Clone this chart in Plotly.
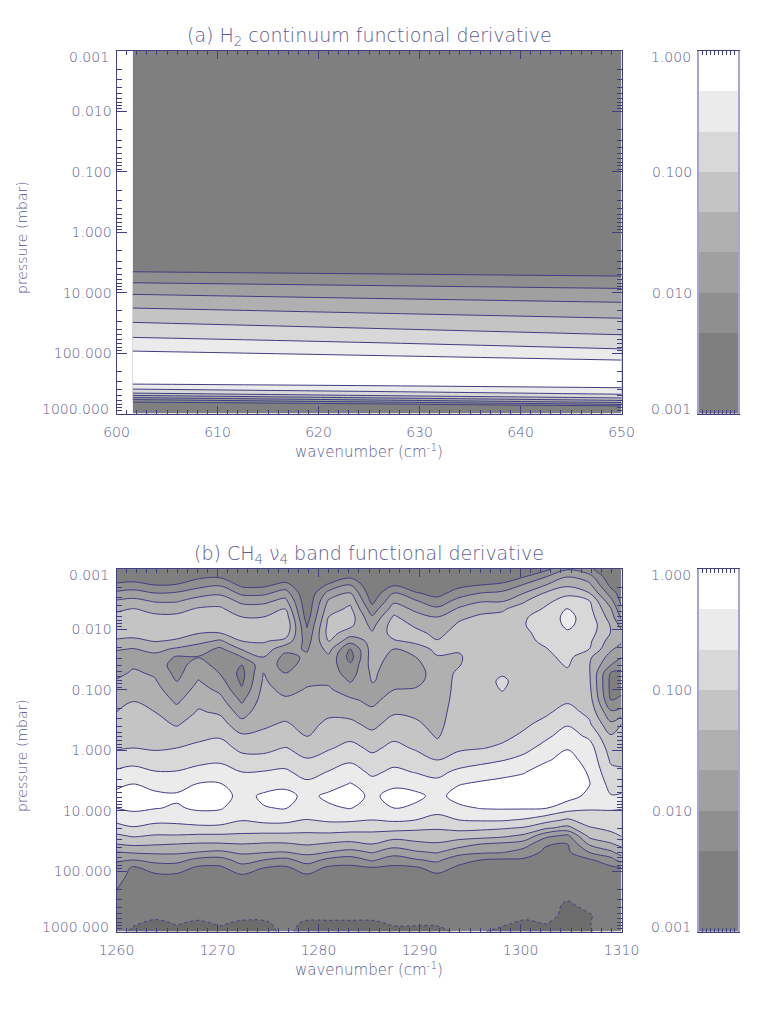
import numpy as np
import plotly.graph_objects as go

# ---- data: contour-level index (2..8 are the drawn levels, one third of a decade apart)
band_colors = ["#7f7f7f", "#8f8f8f", "#a0a0a0", "#b0b0b0", "#c4c4c4", "#d8d8d8", "#ebebeb", "#ffffff"]
band_index = [1.5, 2.5, 3.5, 4.5, 5.5, 6.5, 7.5, 8.5]
band_edges_log = [-3.0, -2.333, -2.0, -1.667, -1.333, -1.0, -0.667, -0.333, 0.0]

pressure_ticks = [-2, -1, 0, 1, 2]
pressure_labels = ["0.010", "0.100", "1.000", "10.000", "100.000"]
pressure_end_labels = ["0.001", "1000.000"]
colorbar_ticks = [-2, -1]
colorbar_labels = ["0.010", "0.100"]
colorbar_end_labels = ["1.000", "0.001"]

wavenumber_a = [601.6, 626.0, 650.0]
log_pressure_a = [-3.0, 0.46, 0.654, 0.836, 1.028, 1.255, 1.492, 1.740, 1.967, 2.116, 2.315, 2.513,
                  2.596, 2.662, 2.700, 2.737, 2.770, 2.811, 2.849, 2.877, 3.0]
level_a_left = [0.9, 0.94, 2.0, 3.0, 4.0, 5.0, 6.0, 7.0, 8.0, 8.7, 8.85, 8.0, 7.0, 6.0, 5.0, 4.0, 3.0, 2.0, 1.0, 0.8, 0.8]
level_a_mid = [0.9, 0.75, 1.81, 2.77, 3.71, 4.67, 5.59, 6.59, 7.63, 8.37, 8.7, 8.25, 7.49, 6.69, 6.1, 5.14, 4.23, 2.97, 1.74, 1.0, 0.8]
level_a_right = [0.9, 0.66, 1.64, 2.56, 3.46, 4.39, 5.25, 6.16, 7.16, 8.0, 8.64, 8.4, 7.85, 7.23, 6.77, 6.14, 5.35, 4.23, 3.0, 1.89, 0.8]

wavenumber_b = [1260.0, 1261.66, 1263.81, 1265.96, 1268.11, 1270.26, 1272.41, 1274.56, 1276.71, 1278.86, 1281.01,
                1283.16, 1285.31, 1287.46, 1289.61, 1291.76, 1293.91, 1296.06, 1298.21, 1300.36, 1302.51, 1304.66,
                1306.81, 1308.96, 1310.0]
log_pressure_b = [-3.0, -2.868, -2.735, -2.603, -2.47, -2.338, -2.206, -2.073, -1.941, -1.808, -1.676, -1.544, -1.411,
                  -1.279, -1.146, -1.014, -0.832, -0.633, -0.435, -0.236, -0.037, 0.161, 0.36, 0.558, 0.757, 0.956,
                  1.154, 1.287, 1.419, 1.552, 1.684, 1.816, 1.949, 2.081, 2.313, 2.561, 2.727, 2.859, 3.0]
level_b_columns = [
 [1.0,1.25,2.25,3.2,4.1,4.8,5.3,5.5,5.3,4.9,4.1,3.6,3.4,3.7,4.1,4.34,4.66,5.0,5.3,5.6,5.9,6.47,7.15,7.75,8.3,8.0,7.25,6.6,5.8,5.0,4.0,3.1,2.75,2.5,2.0,1.7,1.6,1.6,1.5],
 [1.0,1.4,2.4,3.4,4.3,5.05,5.4,5.5,5.3,4.8,3.95,3.6,3.85,4.15,4.4,4.65,4.97,5.2,5.5,5.75,6.0,6.65,7.35,8.0,8.4,8.2,7.5,6.9,6.1,5.2,4.15,3.0,1.8,1.6,1.5,1.5,1.4,1.1,0.6],
 [1.0,1.0,2.0,3.0,3.9,4.7,5.2,5.45,5.4,5.05,4.3,3.7,3.5,3.85,4.1,4.35,4.65,5.0,5.3,5.6,5.9,6.4,7.05,7.65,8.25,8.05,7.25,6.65,5.9,5.1,4.2,3.35,2.4,1.8,1.5,1.4,1.3,0.6,0.6],
 [1.0,1.1,2.1,3.1,3.9,4.7,5.2,5.4,5.3,4.9,3.85,2.9,2.6,2.7,2.95,3.3,3.8,4.35,4.9,5.45,6.0,6.5,7.05,7.6,8.15,7.9,7.25,6.7,5.9,5.0,4.2,3.35,2.45,1.8,1.5,1.4,1.3,1.0,0.6],
 [1.0,1.8,2.65,3.55,4.45,5.1,5.4,5.5,5.05,4.3,3.5,2.95,3.45,3.75,4.05,4.35,4.7,5.1,5.45,5.8,6.2,6.7,7.35,8.05,8.45,8.15,7.45,6.75,5.8,4.9,4.0,2.7,1.8,1.6,1.5,1.4,1.3,0.7,0.6],
 [1.0,1.9,2.9,3.8,4.6,5.15,5.4,5.4,5.0,3.85,2.8,2.6,2.6,2.95,3.35,3.75,4.3,4.85,5.4,5.9,6.4,6.85,7.4,8.05,8.4,8.1,7.4,6.75,5.8,4.9,3.85,2.6,1.8,1.6,1.5,1.4,1.3,1.05,0.6],
 [1.0,1.0,1.75,2.75,3.75,4.45,5.0,5.3,5.3,5.0,4.1,3.0,2.0,1.7,1.8,2.1,2.8,3.55,4.35,5.15,5.75,6.35,7.0,7.45,7.7,7.45,7.05,6.45,5.8,5.0,4.2,3.4,2.6,1.85,1.5,1.4,1.3,0.7,0.6],
 [1.0,1.0,1.75,2.75,3.75,4.45,5.0,5.3,5.35,5.1,4.6,4.0,3.65,4.0,4.15,4.3,4.45,4.65,4.85,5.2,5.7,6.35,7.05,7.6,8.15,7.95,7.25,6.55,5.7,4.9,4.1,3.0,2.0,1.7,1.5,1.4,1.3,0.7,0.6],
 [1.0,1.3,2.35,3.45,4.3,5.0,5.6,5.9,5.6,4.7,3.3,2.7,2.6,3.0,3.35,3.7,4.15,4.65,5.1,5.55,6.05,6.6,7.15,7.75,8.3,8.05,7.25,6.55,5.7,4.9,4.0,2.7,1.8,1.6,1.5,1.5,1.5,1.3,1.1],
 [1.0,1.0,1.05,1.1,1.2,1.3,1.5,1.9,2.2,2.55,2.9,3.15,3.4,3.6,3.85,4.05,4.25,4.5,4.7,4.95,5.45,6.1,6.65,7.2,7.75,7.6,6.95,6.35,5.75,5.1,4.3,3.45,2.5,1.85,1.5,1.4,1.3,0.7,0.6],
 [1.0,1.2,2.15,3.35,4.15,4.6,5.0,5.3,5.4,5.05,4.35,3.8,3.55,3.6,3.85,4.1,4.45,4.8,5.2,5.55,5.9,6.45,7.05,7.6,8.2,7.85,7.15,6.5,5.7,4.9,4.0,2.75,1.8,1.6,1.5,1.4,1.3,0.7,0.6],
 [1.0,1.85,3.0,4.0,4.75,5.2,5.5,5.25,4.5,3.4,1.9,1.6,2.15,2.5,2.9,3.45,4.15,4.7,5.2,5.75,6.3,6.85,7.45,8.05,8.4,8.05,7.15,6.4,5.6,4.75,3.7,2.5,1.75,1.6,1.5,1.4,1.3,0.7,0.6],
 [1.0,1.0,1.1,1.3,1.7,2.4,3.15,3.7,4.1,4.3,4.45,4.5,4.4,4.2,4.05,3.8,3.75,4.2,4.75,5.25,5.8,6.3,6.8,7.35,7.8,7.5,7.0,6.35,5.65,5.0,4.1,3.15,1.9,1.6,1.5,1.4,1.3,0.7,0.6],
 [1.0,1.1,1.9,3.0,3.8,4.5,5.15,5.5,5.4,4.9,4.0,3.7,3.45,3.45,3.7,3.97,4.4,4.9,5.35,5.8,6.25,6.7,7.2,7.8,8.35,8.0,7.15,6.35,5.4,4.45,3.5,2.45,1.8,1.6,1.5,1.4,1.3,1.05,0.6],
 [1.0,1.0,1.2,2.1,3.1,3.8,4.35,4.85,5.25,5.2,4.6,4.0,3.65,3.5,3.75,4.05,4.4,4.8,5.15,5.55,5.9,6.4,6.95,7.6,8.25,7.8,7.0,6.2,5.5,4.75,3.9,2.9,1.85,1.6,1.5,1.4,1.3,1.05,0.6],
 [1.0,1.0,1.1,1.6,2.4,3.2,4.0,4.35,4.75,5.05,5.2,4.95,4.75,4.55,4.4,4.3,4.35,4.55,4.7,4.9,5.35,6.0,6.7,7.3,7.7,7.35,6.7,6.1,5.5,4.9,4.1,3.2,2.4,1.8,1.5,1.4,1.3,1.05,0.6],
 [1.0,1.1,1.7,2.5,3.35,4.15,4.8,5.15,5.35,5.3,5.1,4.9,4.95,5.15,5.3,5.4,5.5,5.55,5.6,5.7,5.85,6.4,7.25,7.95,8.4,7.8,7.0,6.3,5.45,4.45,3.45,2.35,1.8,1.6,1.5,1.5,1.5,1.3,1.1],
 [1.0,1.1,2.0,3.0,3.9,4.7,5.15,5.3,5.4,5.45,5.5,5.5,5.55,5.6,5.65,5.7,5.7,5.7,5.75,5.8,5.95,6.7,7.5,8.15,8.6,8.05,7.1,6.2,5.4,4.0,3.2,2.0,1.7,1.6,1.5,1.5,1.5,1.2,1.0],
 [1.0,1.3,2.25,3.2,3.9,4.9,5.2,5.35,5.45,5.55,5.6,5.65,5.75,5.9,6.15,6.05,5.8,5.75,5.75,5.8,6.15,6.95,7.7,8.3,8.6,8.1,7.1,6.1,5.2,3.8,3.1,1.85,1.7,1.6,1.5,1.4,1.3,1.1,0.6],
 [1.1,2.0,3.1,4.0,4.9,5.4,5.9,5.95,5.8,5.75,5.7,5.65,5.6,5.6,5.6,5.6,5.65,5.75,5.85,6.15,6.7,7.3,7.95,8.35,8.6,8.1,6.9,5.9,4.75,3.5,2.55,1.85,1.7,1.6,1.5,1.4,1.2,0.7,0.6],
 [1.7,3.0,4.0,5.1,5.75,6.15,6.4,6.55,6.4,6.2,5.95,5.75,5.6,5.55,5.5,5.55,5.65,5.85,6.25,6.8,7.35,7.9,8.4,8.6,8.6,8.05,6.4,5.15,3.25,2.1,1.8,1.7,1.6,1.6,1.5,1.4,1.4,0.95,0.5],
 [2.9,4.0,4.8,5.75,6.45,7.05,7.3,7.15,6.9,6.7,6.5,6.3,6.1,5.8,5.6,5.55,5.85,6.35,6.9,7.45,7.95,8.3,8.6,8.7,8.4,7.45,5.85,4.7,2.75,2.0,1.85,1.75,1.7,1.7,1.4,0.7,0.5,0.5,0.5],
 [2.2,3.45,4.25,5.0,6.05,6.3,6.5,6.65,6.45,6.2,6.0,5.2,5.05,5.1,5.15,5.25,5.45,5.75,6.15,6.8,7.45,7.7,7.9,8.05,7.75,7.1,6.5,5.9,5.25,4.15,3.05,1.85,1.7,1.6,1.5,1.3,0.8,0.85,0.8],
 [1.1,1.2,1.7,2.5,3.3,4.05,4.5,4.9,4.95,4.55,4.15,3.6,3.0,1.9,1.7,1.7,2.0,3.15,4.2,5.1,5.5,5.85,6.25,6.65,7.05,7.1,6.6,6.25,5.7,4.9,3.85,2.6,1.8,1.6,1.5,1.5,1.5,1.5,1.5],
 [1.0,1.1,1.2,1.5,1.7,2.15,2.75,3.6,4.3,4.15,3.6,3.05,2.3,1.85,1.7,1.75,2.2,3.4,5.0,5.3,5.55,5.8,6.15,6.65,7.1,7.05,6.65,6.35,6.05,5.3,4.5,3.5,1.9,1.7,1.5,1.5,1.5,1.5,1.5],
]

# ---- styling
W, H = 777, 1035
INK = "#3f3f82"
TEXT = "#5c5c92"
FONT = "DejaVu Sans Light, DejaVu Sans"
n = len(band_colors)
stepped = []
for i, c in enumerate(band_colors):
    stepped += [[i / n, c], [(i + 1) / n, c]]

minor_log = [k + np.log10(m) for k in range(-3, 3) for m in range(2, 10)]

fig = go.Figure()

def panel(idx, top, bottom, xrange, title, xt):
    xa, ya = f"x{idx}", f"y{idx}"
    xname, yname = f"xaxis{idx}", f"yaxis{idx}"
    fig.update_layout({
        xname: dict(domain=[116.5 / W, 621.5 / W], range=xrange, anchor=ya, tick0=xrange[0], dtick=10,
                    ticks="inside", ticklen=8, tickcolor=INK, linecolor=INK, linewidth=1, mirror="allticks",
                    showgrid=False, zeroline=False, layer="above traces", tickwidth=1,
                    minor=dict(dtick=1, ticks="inside", ticklen=4, tickcolor=INK, showgrid=False),
                    tickfont=dict(family=FONT, size=14, color=TEXT), ticklabelstandoff=6),
        yname: dict(domain=[1 - bottom / H, 1 - top / H], range=[3, -3], anchor=xa, tickmode="array",
                    tickvals=pressure_ticks, ticktext=pressure_labels,
                    ticks="inside", ticklen=10, tickcolor=INK, linecolor=INK, linewidth=1, mirror="allticks",
                    showgrid=False, zeroline=False, layer="above traces", tickwidth=1,
                    minor=dict(tickmode="array", tickvals=minor_log, ticks="inside", ticklen=5,
                               tickcolor=INK, showgrid=False),
                    tickfont=dict(family=FONT, size=14, color=TEXT), ticklabelstandoff=1),
    })
    for text, y, size in ((title, top - 15, 19), (xt, bottom + 37, 15)):
        fig.add_annotation(text=text, xref="paper", yref="paper", x=369 / W, y=1 - y / H,
                           showarrow=False, xanchor="center", yanchor="middle",
                           font=dict(family=FONT, size=size, color=TEXT))
    fig.add_annotation(text="pressure (mbar)", xref="paper", yref="paper", x=22 / W, y=1 - (top + 187) / H,
                       textangle=-90, showarrow=False, xanchor="center", yanchor="middle",
                       font=dict(family=FONT, size=14, color=TEXT))
    for lab, yy in zip(pressure_end_labels, (top + 6, bottom - 5)):
        fig.add_annotation(text=lab, xref="paper", yref="paper", x=111 / W, y=1 - yy / H, showarrow=False,
                           xanchor="right", yanchor="middle", font=dict(family=FONT, size=14, color=TEXT))

def colorbar(idx, top, bottom):
    xa, ya = f"x{idx}", f"y{idx}"
    fig.add_trace(go.Heatmap(x=[0, 1], y=band_edges_log, z=[[v] for v in band_index], xaxis=xa, yaxis=ya,
                             colorscale=stepped, zmin=1, zmax=9, showscale=False, hoverinfo="skip"))
    fig.update_layout({
        f"xaxis{idx}": dict(domain=[699 / W, 738 / W], range=[0, 1], anchor=ya, showticklabels=False,
                            tickmode="linear", tick0=0, dtick=0.1, ticks="inside", ticklen=4, tickcolor=INK,
                            linecolor=INK, mirror="allticks", showgrid=False, zeroline=False,
                            layer="above traces"),
        f"yaxis{idx}": dict(domain=[1 - bottom / H, 1 - top / H], range=[-3, 0], anchor=xa, tickmode="array",
                            tickvals=colorbar_ticks, ticktext=colorbar_labels,
                            ticks="", linecolor="#a6a6cc", linewidth=2, mirror=True, showgrid=False,
                            zeroline=False, layer="above traces",
                            tickfont=dict(family=FONT, size=14, color=TEXT), ticklabelstandoff=2),
    })
    for lab, yy in zip(colorbar_end_labels, (top + 6, bottom - 5)):
        fig.add_annotation(text=lab, xref="paper", yref="paper", x=693 / W, y=1 - yy / H, showarrow=False,
                           xanchor="right", yanchor="middle", font=dict(family=FONT, size=14, color=TEXT))

contour_style = dict(colorscale=stepped, zmin=1, zmax=9, showscale=False,
                     contours=dict(start=2, end=8, size=1, coloring="fill", showlines=True),
                     line=dict(color=INK, width=1), hoverinfo="skip")

# panel (a)
z_a = np.array([level_a_left, level_a_mid, level_a_right]).T
fig.add_trace(go.Contour(x=wavenumber_a, y=log_pressure_a, z=z_a, xaxis="x", yaxis="y", **contour_style))
panel("", 51, 413.5, [600, 650], "(a) H<sub>2</sub> continuum functional derivative", "wavenumber (cm<sup>-1</sup>)")
fig.update_layout(xaxis=dict(anchor="y"), yaxis=dict(anchor="x"))

# panel (b)
z_b = np.array(level_b_columns).T
fig.add_trace(go.Contour(x=wavenumber_b, y=log_pressure_b, z=z_b, xaxis="x2", yaxis="y2", **contour_style))
fig.add_trace(go.Contour(x=wavenumber_b, y=log_pressure_b, z=z_b, xaxis="x2", yaxis="y2", showscale=False,
                         contours=dict(type="constraint", operation=">", value=0.9),
                         fillcolor="#6c6c6c", line=dict(color=INK, width=1, dash="dot"), hoverinfo="skip"))
panel("2", 569, 931.5, [1260, 1310], "(b) CH<sub>4</sub> \u03bd<sub>4</sub> band functional derivative",
      "wavenumber (cm<sup>-1</sup>)")

colorbar("3", 51, 413.5)
colorbar("4", 569, 931.5)

fig.update_layout(width=W, height=H, margin=dict(l=0, r=0, t=0, b=0, autoexpand=False), paper_bgcolor="white",
                  plot_bgcolor="white", showlegend=False, autosize=False)
fig.write_html("out.html", config={"displayModeBar": False}, post_script="document.body.style.margin='0';")
